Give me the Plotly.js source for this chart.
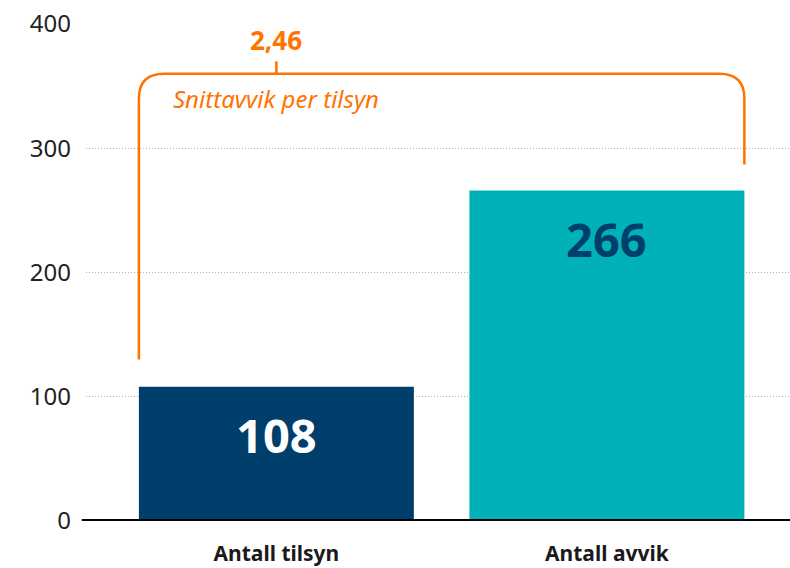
<!DOCTYPE html>
<html><head><meta charset="utf-8">
<script src="https://cdn.plot.ly/plotly-3.0.1.min.js"></script>
<style>html,body{margin:0;padding:0;background:#fff}#c{width:790px;height:568px}</style>
</head><body><div id="c"></div>
<script>
const categories = ["Antall tilsyn", "Antall avvik"];
const values = [108, 266];
const barColors = ["#003f6b", "#00b2b8"];
const labelColors = ["#ffffff", "#003f6b"];
const yTicks = [0, 100, 200, 300, 400];
const avgLabel = "Snittavvik per tilsyn";

const orange = "#ff7300";
const font = "'Noto Sans', 'DejaVu Sans', sans-serif";
const xpos = categories.map((c, i) => i);
const bw = 0.832;
const ratio = (values[1] / values[0]).toFixed(2).replace('.', ',');

const trace = {
  type: 'bar', x: xpos, y: values, width: bw,
  marker: {color: barColors},
  hoverinfo: 'none'
};

// bracket geometry derived from the bars
const xl = xpos[0] - bw / 2, xr = xpos[1] + bw / 2;
const yTop = 360, yl = values[0] + 22, yr = values[1] + 21;
const rx = 0.076, ry = 20;
const path = `M ${xl} ${yl} L ${xl} ${yTop - ry} Q ${xl} ${yTop} ${xl + rx} ${yTop} ` +
  `L ${xr - rx} ${yTop} Q ${xr} ${yTop} ${xr} ${yTop - ry} L ${xr} ${yr}`;

const barLabels = values.map((v, i) => ({
  xref: 'x', yref: 'y', x: xpos[i], y: v, yshift: -48, yanchor: 'middle', showarrow: false,
  text: '<b>' + v + '</b>', font: {family: font, size: 47, color: labelColors[i]}
}));

const layout = {
  width: 790, height: 568,
  margin: {l: 86, r: 0, t: 24, b: 47},
  paper_bgcolor: '#fff', plot_bgcolor: '#fff',
  showlegend: false,
  xaxis: {range: [-0.576, 1.554], tickvals: xpos, ticktext: categories,
    showgrid: false, zeroline: false, showline: false, ticks: '',
    tickfont: {family: font, size: 21, color: '#1a1a1a', weight: 700}, ticklabelstandoff: 18},
  yaxis: {range: [0, 400], tickvals: yTicks, showgrid: true, gridcolor: '#9db3c8',
    griddash: '1px,2px', gridwidth: 1, zeroline: false, showline: false, ticks: '',
    tickfont: {family: font, size: 24, color: '#222'}, ticklabelstandoff: 14},
  shapes: [
    {type: 'path', xref: 'x', yref: 'y', path: path, line: {color: orange, width: 2.5}, layer: 'above'},
    {type: 'line', xref: 'x', yref: 'y', x0: xpos[0], x1: xpos[0], y0: yTop, y1: yTop + 10,
      line: {color: orange, width: 2.5}},
    {type: 'line', xref: 'paper', yref: 'y', x0: -0.006, x1: 1, y0: 0, y1: 0,
      line: {color: '#000', width: 4}, layer: 'above'}
  ],
  annotations: barLabels.concat([
    {xref: 'x', yref: 'y', x: xpos[0], y: yTop + 11, yanchor: 'bottom', showarrow: false,
      text: '<b>' + ratio + '</b>', font: {family: font, size: 26, color: orange}},
    {xref: 'x', yref: 'y', x: xpos[0], y: yTop - 5, yanchor: 'top', showarrow: false,
      text: '<i>' + avgLabel + '</i>', font: {family: font, size: 24, color: orange}}
  ])
};
Plotly.newPlot('c', [trace], layout, {displayModeBar: false, staticPlot: true});
</script></body></html>
